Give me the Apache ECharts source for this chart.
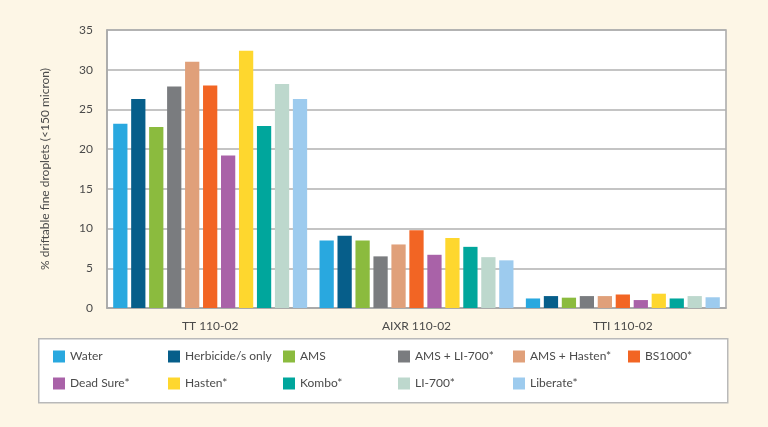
<!DOCTYPE html>
<html>
<head>
<meta charset="utf-8">
<script src="https://cdn.jsdelivr.net/npm/echarts@6/dist/echarts.min.js"></script>
<style>
html,body{margin:0;padding:0;background:#fdf6e6;}
#c{width:768px;height:427px;}
</style>
</head>
<body>
<div id="c"></div>
<script>
const categories = ['TT 110-02', 'AIXR 110-02', 'TTI 110-02'];
const seriesNames = ['Water', 'Herbicide/s only', 'AMS', 'AMS + LI-700*', 'AMS + Hasten*', 'BS1000*', 'Dead Sure*', 'Hasten*', 'Kombo*', 'LI-700*', 'Liberate*'];
const water = [23.2, 8.5, 1.2];
const herbicide = [26.3, 9.1, 1.5];
const ams = [22.8, 8.5, 1.3];
const amsLi700 = [27.9, 6.5, 1.5];
const amsHasten = [31.0, 8.0, 1.5];
const bs1000 = [28.0, 9.8, 1.7];
const deadSure = [19.2, 6.7, 1.0];
const hasten = [32.4, 8.8, 1.8];
const kombo = [22.9, 7.7, 1.2];
const li700 = [28.2, 6.4, 1.5];
const liberate = [26.3, 6.0, 1.35];
const seriesValues = [water, herbicide, ams, amsLi700, amsHasten, bs1000, deadSure, hasten, kombo, li700, liberate];
const colors = ['#29a8df', '#065e8a', '#8bbb3e', '#7a7c7f', '#e0a07a', '#f26524', '#a962a8', '#fed72e', '#00a69c', '#bdd8cd', '#9dcbee'];
const yTicks = [0, 5, 10, 15, 20, 25, 30, 35];

const chart = echarts.init(document.getElementById('c'));
const font = 'Lato, "Open Sans", sans-serif';
chart.setOption({
  backgroundColor: '#fdf6e6',
  animation: false,
  textStyle: {fontFamily: font},
  graphic: [{
    type: 'rect', left: 38, top: 338,
    shape: {width: 689, height: 64},
    style: {fill: '#ffffff', stroke: '#b9b9b9', lineWidth: 1.5},
    z: 0
  }],
  legend: {
    left: 48, top: 343, width: 690,
    itemWidth: 12, itemHeight: 12, itemGap: 10,
    icon: 'rect',
    data: seriesNames,
    textStyle: {fontFamily: font, fontSize: 12, color: '#4a4a4a', width: 88, lineHeight: 17},
    z: 5
  },
  grid: {
    left: 107, right: 42, top: 30, bottom: 119,
    show: true, backgroundColor: '#ffffff', borderColor: '#a8a8a8', borderWidth: 1.5
  },
  xAxis: {
    type: 'category',
    data: categories,
    axisTick: {show: false},
    axisLine: {lineStyle: {color: '#a8a8a8', width: 1.5}},
    axisLabel: {color: '#4a4a4a', fontSize: 12, margin: 12, fontFamily: font}
  },
  yAxis: {
    type: 'value', min: yTicks[0], max: yTicks[yTicks.length - 1], interval: 5,
    name: '% driftable fine droplets (<150 micron)',
    nameLocation: 'middle', nameGap: 56,
    nameTextStyle: {color: '#4a4a4a', fontSize: 12, fontFamily: font},
    axisLine: {show: true, lineStyle: {color: '#a8a8a8', width: 1.5}},
    axisLabel: {color: '#4a4a4a', fontSize: 12, margin: 14, fontFamily: font},
    splitLine: {lineStyle: {color: '#b0b0b0', width: 1.5}}
  },
  series: seriesNames.map((n, i) => ({
    name: n, type: 'bar', data: seriesValues[i],
    itemStyle: {color: colors[i]},
    barGap: '26%', barCategoryGap: '6%'
  }))
});
</script>
</body>
</html>
